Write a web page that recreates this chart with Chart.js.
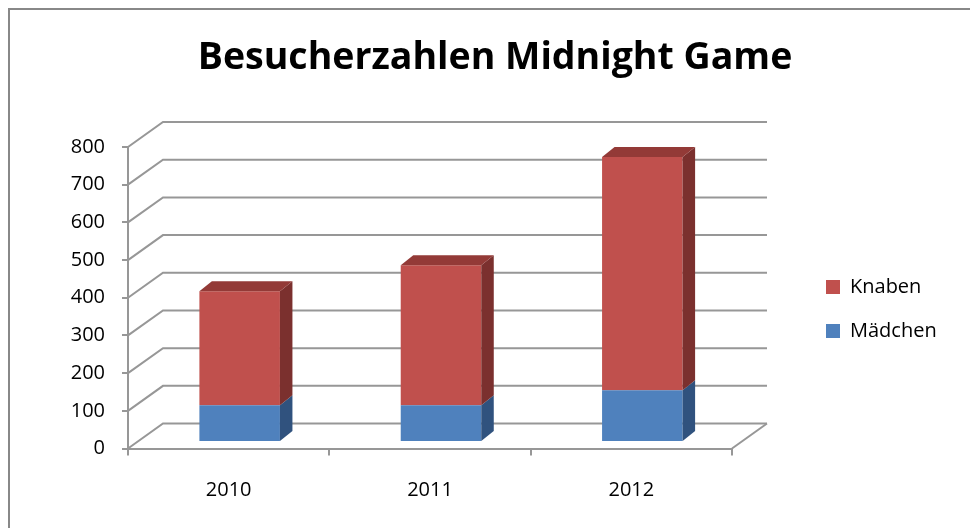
<!DOCTYPE html>
<html><head><meta charset="utf-8">
<script src="https://cdn.jsdelivr.net/npm/chart.js@4/dist/chart.umd.min.js"></script>
<style>html,body{margin:0;padding:0;background:#fff}#wrap{width:970px;height:528px}</style>
</head><body><div id="wrap"><canvas id="c" width="970" height="528"></canvas></div>
<script>
// ---- data ----
const categories = ['2010', '2011', '2012'];
const maedchen = [97, 97, 137];
const knaben = [303, 372, 619];
const seriesNames = ['Mädchen', 'Knaben'];
const titleText = 'Besucherzahlen Midnight Game';
const yMin = 0, yMax = 800, yStep = 100;

// ---- style ----
const FONT = "'Open Sans', 'Liberation Sans', sans-serif";
const GRID = '#979797';
const RED = '#C0504D', BLUE = '#4F81BD';
const SHADE = { [RED]: { side: '#7b302e', top: '#933a37' }, [BLUE]: { side: '#30527e', top: '#3d6699' } };
const BAR_SHIFT = { x: 11, y: -6.6 };
const BAR_DEPTH = { x: 12.5, y: -10 };
const WALL = { x: 35, y: -25 };
const LEGEND_WIDTH = 168;

const threeD = {
  id: 'threeD',
  afterInit(chart) {
    const lg = chart.legend;
    if (lg) {
      const origFit = lg.fit;
      lg.fit = function () { origFit.call(this); this.width = LEGEND_WIDTH; };
    }
  },
  beforeDraw(chart) {
    const ctx = chart.ctx;
    ctx.save();
    ctx.fillStyle = '#fff';
    ctx.fillRect(0, 0, chart.width, chart.height);
    ctx.strokeStyle = '#888';
    ctx.lineWidth = 2;
    ctx.strokeRect(9, 9, chart.width + 40, chart.height + 40);
    ctx.restore();
  },
  beforeDatasetsDraw(chart) {
    const { ctx, chartArea: { left, right, bottom }, scales: { y } } = chart;
    ctx.save();
    ctx.strokeStyle = GRID;
    ctx.lineWidth = 2;
    y.ticks.forEach(t => {
      const py = y.getPixelForValue(t.value);
      ctx.beginPath();
      ctx.moveTo(left, py);
      ctx.lineTo(left + WALL.x, py + WALL.y);
      ctx.lineTo(right + WALL.x, py + WALL.y);
      ctx.stroke();
    });
    ctx.beginPath();
    ctx.moveTo(right, bottom);
    ctx.lineTo(right + WALL.x, bottom + WALL.y);
    ctx.stroke();
    ctx.restore();
    ctx.save();
    ctx.translate(BAR_SHIFT.x, BAR_SHIFT.y);
  },
  afterDatasetsDraw(chart) {
    const ctx = chart.ctx;
    const n = chart.data.datasets.length;
    chart.data.datasets.forEach((ds, di) => {
      const meta = chart.getDatasetMeta(di);
      const col = SHADE[ds.backgroundColor];
      meta.data.forEach(el => {
        const { x, y, base, width } = el.getProps(['x', 'y', 'base', 'width'], true);
        const x0 = x - width / 2, x1 = x + width / 2;
        ctx.fillStyle = col.side;
        ctx.beginPath();
        ctx.moveTo(x1, y);
        ctx.lineTo(x1 + BAR_DEPTH.x, y + BAR_DEPTH.y);
        ctx.lineTo(x1 + BAR_DEPTH.x, base + BAR_DEPTH.y);
        ctx.lineTo(x1, base);
        ctx.closePath();
        ctx.fill();
        if (di === n - 1) {
          ctx.fillStyle = col.top;
          ctx.beginPath();
          ctx.moveTo(x0, y);
          ctx.lineTo(x1, y);
          ctx.lineTo(x1 + BAR_DEPTH.x, y + BAR_DEPTH.y);
          ctx.lineTo(x0 + BAR_DEPTH.x, y + BAR_DEPTH.y);
          ctx.closePath();
          ctx.fill();
        }
      });
    });
    ctx.restore();
  }
};

new Chart(document.getElementById('c'), {
  type: 'bar',
  data: {
    labels: categories,
    datasets: [
      { label: seriesNames[0], data: maedchen, backgroundColor: BLUE, borderWidth: 0, clip: false,
        categoryPercentage: 1, barPercentage: 0.4 },
      { label: seriesNames[1], data: knaben, backgroundColor: RED, borderWidth: 0, clip: false,
        categoryPercentage: 1, barPercentage: 0.4 }
    ]
  },
  options: {
    responsive: false,
    animation: false,
    events: [],
    layout: { padding: { left: 20, right: 0, top: 0, bottom: 3.5 } },
    scales: {
      x: {
        stacked: true,
        grid: { display: true, drawOnChartArea: false, drawTicks: true, tickLength: 7, color: GRID, lineWidth: 2, offset: true },
        border: { display: true, color: GRID, width: 2 },
        ticks: { color: '#000', padding: 22.5, font: { family: FONT, size: 20 } }
      },
      y: {
        stacked: true,
        min: yMin, max: yMax,
        grid: { display: true, drawOnChartArea: false, drawTicks: true, tickLength: 6, color: GRID, lineWidth: 2 },
        border: { display: true, color: GRID, width: 2 },
        ticks: { stepSize: yStep, color: '#000', padding: 17, font: { family: FONT, size: 20 } },
        afterFit(s) { s.width = 108; }
      },
      yDummy: {
        type: 'linear', position: 'right', display: true,
        grid: { display: false }, border: { display: false }, ticks: { display: false },
        afterFit(s) { s.width = 70; }
      }
    },
    plugins: {
      title: {
        display: true, text: titleText, color: '#000',
        font: { family: FONT, size: 37.5, weight: 'bold', lineHeight: 1.2 },
        padding: { top: 36, bottom: 66 }
      },
      legend: {
        position: 'right', reverse: true, fullSize: false,
        title: { display: true, text: '', padding: { top: 5, bottom: 5 }, font: { size: 10, lineHeight: 1.25 } },
        labels: { boxWidth: 14, boxHeight: 14, padding: 24, color: '#000', font: { family: FONT, size: 20 } }
      },
      tooltip: { enabled: false }
    }
  },
  plugins: [threeD]
});
</script>
</body></html>
